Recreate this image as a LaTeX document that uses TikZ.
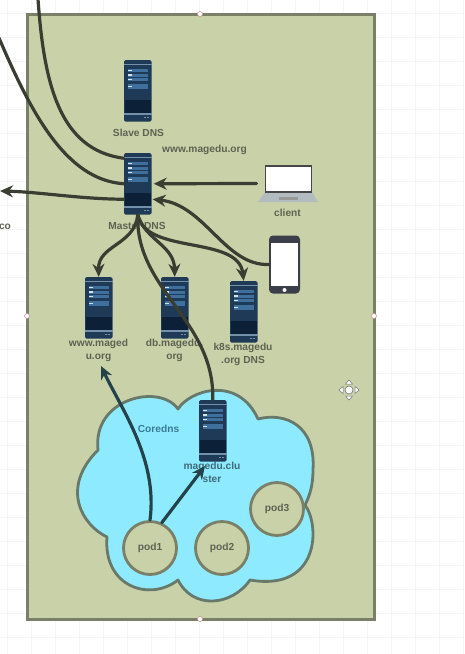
\documentclass[tikz,border=0pt]{standalone}
\usepackage{fontspec}
\setmainfont{Liberation Sans}
\usetikzlibrary{arrows.meta,calc}
\definecolor{panelfill}{HTML}{C9D1A8}
\definecolor{paneledge}{HTML}{7A7F68}
\definecolor{lineink}{HTML}{3A3E32}
\definecolor{tealink}{HTML}{24424A}
\definecolor{labelink}{HTML}{5C6352}
\definecolor{cloudfill}{HTML}{8EEBFF}
\definecolor{cloudedge}{HTML}{66796A}
\definecolor{srvbody}{HTML}{1E3A56}
\definecolor{srvdark}{HTML}{0C2138}
\definecolor{srvbar}{HTML}{3F6F9C}
\definecolor{srvstrip}{HTML}{7391A8}
\definecolor{coredink}{HTML}{3A7A95}
\definecolor{clusterink}{HTML}{3F6A78}
\definecolor{phoneink}{HTML}{3B3F4A}
\definecolor{laptopbase}{HTML}{B2BCC0}
\definecolor{gridline}{HTML}{F5F5F5}
\tikzset{
  lbl/.style={font=\bfseries\fontsize{10.2}{13}\selectfont,text=labelink,align=center,inner sep=0pt},
  conn/.style={draw=lineink,line width=3.2pt,line cap=round},
  tealconn/.style={draw=tealink,line width=3.2pt,line cap=round},
  tip/.style={-{Stealth[length=13pt,width=12pt]}},
  srvbox/.style={rectangle,rounded corners=1.5pt,fill=srvbody,minimum width=27.5pt,minimum height=61.5pt,inner sep=0pt},
  podnode/.style={circle,draw=paneledge,line width=2.8pt,fill=panelfill,minimum size=53pt,inner sep=0pt,font=\bfseries\fontsize{10.2}{12}\selectfont,text=labelink},
  handle/.style={circle,draw=red!35!gray!60,fill=white,line width=.6pt,minimum size=5pt,inner sep=0pt}
}
% name, left, top
\newcommand{\srvpic}[3]{%
  \node[srvbox] (#1) at (#2+13.75,#3+30.75) {};
  \begin{scope}[shift={(#2,#3)}]
    \fill[srvstrip] (0,4) rectangle (27.5,5.4);
    \fill[srvbar] (4,9) rectangle (24,12);
    \fill[srvbar] (4,13.5) rectangle (24,16.5);
    \fill[srvbar] (4,17.5) rectangle (24,21);
    \fill[srvbar] (4,24) rectangle (24,29);
    \fill[white!80!srvbar] (4,9.8) rectangle (8,11);
    \fill[white!80!srvbar] (4,14.4) rectangle (8,15.6);
    \fill[white!80!srvbar] (4,18.6) rectangle (8,19.8);
    \fill[white!80!srvbar] (4,26) rectangle (8,27.2);
    \fill[srvdark] (1,40) rectangle (26.5,52.5);
    \fill[srvstrip] (0,53) rectangle (27.5,55);
    \fill[srvstrip] (20,56.8) rectangle (21.5,58.3);
    \fill[srvstrip] (23,56.8) rectangle (24.5,58.3);
  \end{scope}}
\begin{document}
\begin{tikzpicture}[x=1pt,y=-1pt]
\useasboundingbox (0,0) rectangle (464,654);
\fill[white] (0,0) rectangle (464,654);
\foreach \gx in {7,31,...,463} \draw[gridline,line width=.5pt] (\gx,0) -- (\gx,654);
\foreach \gy in {13,37,...,653} \draw[gridline,line width=.5pt] (0,\gy) -- (464,\gy);
% panel
\node[rectangle,draw=paneledge,fill=panelfill,line width=3pt,minimum width=347pt,minimum height=605pt,inner sep=0pt] (panel) at (200.5,316.5) {};
\node[handle] (h1) at (200,14) {};
\node[handle] (h2) at (27,316) {};
\node[handle] (h3) at (374,316) {};
\node[handle] (h4) at (200,619) {};
% cloud
\draw[fill=cloudfill,draw=cloudedge,line width=2.8pt,line join=round] (178,409)
  .. controls (190,390) and (238,375) .. (258,419)
  .. controls (285,412) and (316,425) .. (313,470)
  .. controls (313,485) and (310,495) .. (305,505)
  .. controls (320,525) and (320,592) .. (250,580)
  .. controls (232,606) and (193,610) .. (178,580)
  .. controls (150,602) and (103,587) .. (107,537)
  .. controls (82,525) and (60,488) .. (98,450)
  .. controls (92,398) and (160,383) .. (178,409) -- cycle;
\node[font=\bfseries\fontsize{10.2}{12}\selectfont,text=coredink,inner sep=0pt] (coredns) at (158.5,429) {Coredns};
% pods
\node[podnode] (pod1) at (150,548) {pod1};
\node[podnode] (pod2) at (222,548) {pod2};
\node[podnode] (pod3) at (277,509) {pod3};
% labels
\node[lbl] (lslave) at (138.5,132.5) {Slave DNS};
\node[lbl] (lmaster) at (137,226) {Master DNS};
\node[lbl] (lsite) at (204.5,149.5) {www.magedu.org};
\node[lbl] (lclient) at (287.5,213) {client};
\node[lbl] (lwww) at (98.5,350.5) {www.maged\\u.org};
\node[lbl] (ldb) at (174.5,350.5) {db.magedu.\\org};
\node[lbl] (lk8s) at (243,354) {k8s.magedu\\.org DNS};
\node[lbl,text=clusterink] (lcluster) at (212,472.5) {magedu.clu\\ster};
\node[lbl] (lco) at (5,227) {co};
% servers
\srvpic{slave}{124}{60}
\srvpic{master}{124}{153}
\srvpic{www}{85}{277}
\srvpic{db}{161}{277}
\srvpic{k8s}{230}{281}
\srvpic{cluster}{199}{400}
% laptop
\fill[laptopbase] (258,202) -- (265,192) -- (312,192) -- (318,202) -- cycle;
\fill[black!40] (279,196.5) rectangle (298,200);
\node[rectangle,fill=white,draw=black!72,line width=1.8pt,minimum width=46pt,minimum height=26pt,inner sep=0pt] (laptop) at (288.5,179) {};
% phone
\node[rectangle,rounded corners=4pt,fill=phoneink,minimum width=31pt,minimum height=58pt,inner sep=0pt] (phone) at (284.5,264.5) {};
\fill[white] (271,243) rectangle (298,286);
\fill[white] (284.5,290) circle (2pt);
% free ends
\coordinate (outa) at (38,-1);
\coordinate (outb) at (-1,38);
\coordinate (outc) at (0,191);
% connectors
\draw[conn] (outa) .. controls (44,85) and (60,150) .. ([yshift=25.5pt]master.west);
\draw[conn] (outb) .. controls (30,110) and (65,180) .. (master.west);
\draw[conn,tip] ([yshift=-15.5pt]master.west) .. controls (80,199) and (40,192) .. (outc);
\draw[conn,tip] ([xshift=-8pt,yshift=-4.5pt]laptop.west) -- ([xshift=2pt]master.east);
\draw[conn,tip] (phone.west) .. controls (225,266) and (205,205) .. ([xshift=1pt,yshift=-15.5pt]master.east);
\draw[conn,tip] (master.south) .. controls (135,245) and (98,245) .. (www.north);
\draw[conn,tip] (master.south) .. controls (145,240) and (174,245) .. (db.north);
\draw[conn,tip] (master.south) .. controls (145,255) and (238,235) .. (k8s.north);
\draw[conn] (master.south) .. controls (135,290) and (215,320) .. (cluster.north);
\draw[tealconn,tip] (pod1.north) .. controls (158,460) and (122,410) .. (101,366);
\draw[tealconn,tip] (pod1.65) -- (205,466);
% move cursor
\node[circle,draw=black!55,fill=white,line width=.6pt,minimum size=8pt,inner sep=0pt] (cursor) at (349,390) {};
\foreach \ang in {0,90,180,270}
  \draw[black!55,fill=white,line width=.5pt,shift={(349,390)},rotate=\ang] (6,-3.5) -- (10,0) -- (6,3.5) -- cycle;
\end{tikzpicture}
\end{document}
